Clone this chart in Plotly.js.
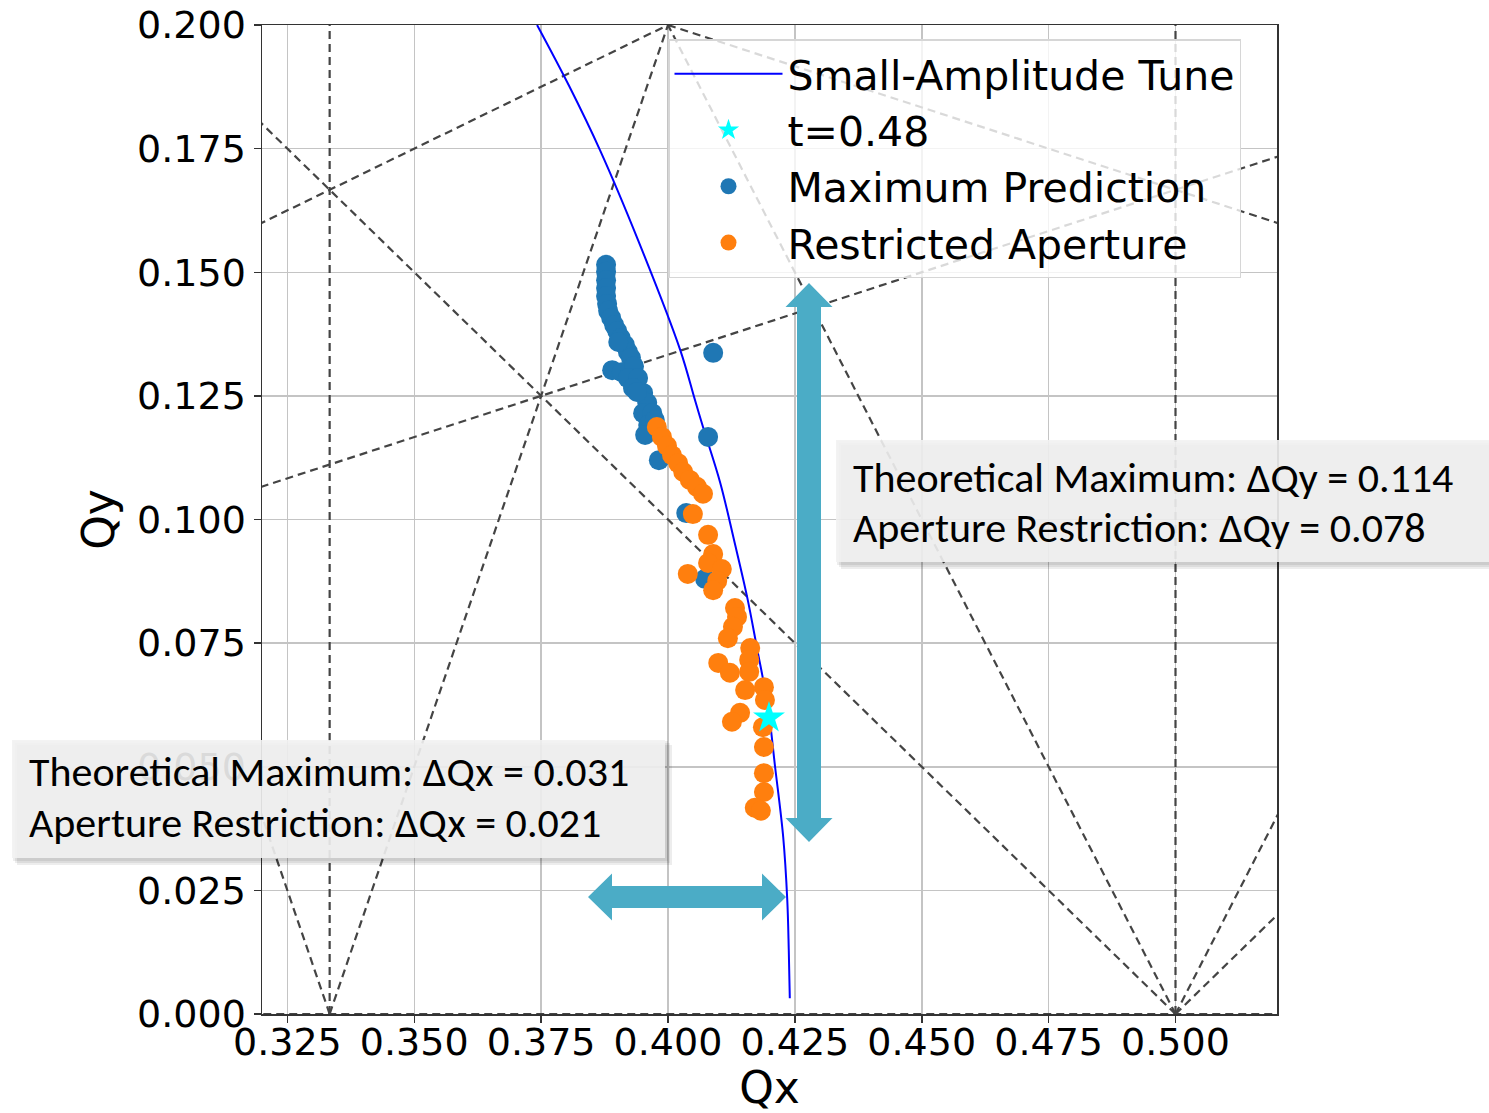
<!DOCTYPE html>
<html>
<head>
<meta charset="utf-8">
<script src="https://cdn.plot.ly/plotly-3.0.1.min.js"></script>
<style>
  html, body { margin: 0; padding: 0; background: #ffffff; }
  #chart { width: 1489px; height: 1113px; }
</style>
</head>
<body>
<div id="chart"></div>
<script>
// Small-amplitude tune footprint (detuning curve)
const tuneQx = [0.3742, 0.3805, 0.3866, 0.3941, 0.4024, 0.4053, 0.4069, 0.4103, 0.4130, 0.4156, 0.4175, 0.4197, 0.4211, 0.4227, 0.4235, 0.4238, 0.4240];
const tuneQy = [0.2000, 0.1877, 0.1747, 0.1565, 0.1343, 0.1242, 0.1187, 0.1074, 0.0959, 0.0843, 0.0742, 0.0621, 0.0500, 0.0358, 0.0231, 0.0129, 0.0032];

// Tune at t = 0.48
const starQx = [0.4199];
const starQy = [0.0599];

// Maximum prediction
const maxQx = [0.3878, 0.3878, 0.3878, 0.3878, 0.3878, 0.3880, 0.3882, 0.3888, 0.3894, 0.3900, 0.3907,
               0.3915, 0.3921, 0.3927, 0.3890, 0.3909, 0.3933, 0.3921, 0.3941, 0.3931, 0.3951, 0.3959,
               0.3951, 0.3969, 0.3961, 0.3955, 0.3982, 0.4036, 0.4073, 0.4089, 0.4079,
               0.3902, 0.3939, 0.3974];
const maxQy = [0.1515, 0.1501, 0.1484, 0.1468, 0.1452, 0.1436, 0.1422, 0.1408, 0.1393, 0.1381, 0.1367,
               0.1353, 0.1339, 0.1327, 0.1302, 0.1298, 0.1310, 0.1286, 0.1286, 0.1266, 0.1256, 0.1236,
               0.1215, 0.1215, 0.1191, 0.1171, 0.1120, 0.1013, 0.0880, 0.1337, 0.1167,
               0.1359, 0.1258, 0.1201];

// Restricted aperture
const apQx = [0.3978, 0.3988, 0.3998, 0.4008, 0.4020, 0.4030, 0.4043, 0.4057, 0.4069, 0.4049, 0.4079,
              0.4089, 0.4079, 0.4106, 0.4039, 0.4097, 0.4089, 0.4132, 0.4136, 0.4128, 0.4118, 0.4162,
              0.4160, 0.4099, 0.4122, 0.4160, 0.4152, 0.4189, 0.4191, 0.4142, 0.4126, 0.4187, 0.4189,
              0.4189, 0.4189, 0.4171, 0.4183];
const apQy = [0.1187, 0.1167, 0.1149, 0.1130, 0.1114, 0.1096, 0.1080, 0.1066, 0.1052, 0.1011, 0.0969,
              0.0930, 0.0912, 0.0900, 0.0890, 0.0876, 0.0857, 0.0821, 0.0803, 0.0783, 0.0760, 0.0740,
              0.0716, 0.0710, 0.0690, 0.0692, 0.0655, 0.0661, 0.0635, 0.0609, 0.0591, 0.0580, 0.0540,
              0.0487, 0.0449, 0.0417, 0.0411];

// Resonance lines m*Qx + n*Qy = p, as segment end points
const resX0 = [0.33333, 0.5, 0.31, 0.33333, 0.33333, 0.5, 0.5, 0.5, 0.5, 0.31, 0.4, 0.31];
const resY0 = [0.0, 0.0, 0.0, 0.0, 0.0, 0.0, 0.0, 0.0, 0.0, 0.155, 0.2, 0.10333];
const resX1 = [0.33333, 0.5, 0.53, 0.4, 0.31, 0.4, 0.31, 0.53, 0.53, 0.4, 0.53, 0.53];
const resY1 = [0.21, 0.21, 0.0, 0.2, 0.07, 0.2, 0.19, 0.06, 0.03, 0.2, 0.15667, 0.17667];

const xTicks = [0.325, 0.35, 0.375, 0.4, 0.425, 0.45, 0.475, 0.5];
const yTicks = [0, 0.025, 0.05, 0.075, 0.1, 0.125, 0.15, 0.175, 0.2];

const noteQx = ['Theoretical Maximum: ΔQx = 0.031', 'Aperture Restriction: ΔQx = 0.021'];
const noteQy = ['Theoretical Maximum: ΔQy = 0.114', 'Aperture Restriction: ΔQy = 0.078'];

// ---- layout helpers (plot area in pixels) ----
const W = 1489, H = 1113;
const PL = 262, PR = 1277, PT = 25, PB = 1014;
const px = v => (v - PL) / (PR - PL);
const py = v => (PB - v) / (PB - PT);

const FONT = 'DejaVu Sans, Verdana, sans-serif';
const NOTE_FONT = 'Carlito, Lato, sans-serif';
const ARROW = '#4bacc6';

const traces = [];

resX0.forEach((x0, i) => {
  traces.push({
    x: [x0, resX1[i]], y: [resY0[i], resY1[i]],
    mode: 'lines', type: 'scatter', showlegend: false, hoverinfo: 'skip',
    line: { color: '#444444', width: 2.2, dash: '8px,5px' }
  });
});

traces.push({
  x: tuneQx, y: tuneQy, type: 'scatter', mode: 'lines', name: 'Small-Amplitude Tune',
  line: { color: '#0000ff', width: 2, shape: 'spline', smoothing: 1 }, legendrank: 1
});
traces.push({
  x: maxQx, y: maxQy, type: 'scatter', mode: 'markers', name: 'Maximum Prediction',
  marker: { color: '#1f77b4', size: 20 }, legendrank: 3
});
traces.push({
  x: apQx, y: apQy, type: 'scatter', mode: 'markers', name: 'Restricted Aperture',
  marker: { color: '#ff7f0e', size: 20 }, legendrank: 4
});
traces.push({
  x: starQx, y: starQy, type: 'scatter', mode: 'markers', name: 't=0.48',
  marker: { color: '#00ffff', size: 24, symbol: 'star' }, legendrank: 2
});

// Double-headed block arrow path, in pixel coordinates converted to paper
function vArrow(cx, yTop, yBot, shaftHalf, headHalf, headLen) {
  const p = [
    [cx, yTop], [cx + headHalf, yTop + headLen], [cx + shaftHalf, yTop + headLen],
    [cx + shaftHalf, yBot - headLen], [cx + headHalf, yBot - headLen], [cx, yBot],
    [cx - headHalf, yBot - headLen], [cx - shaftHalf, yBot - headLen],
    [cx - shaftHalf, yTop + headLen], [cx - headHalf, yTop + headLen]
  ];
  return 'M' + p.map(q => px(q[0]) + ',' + py(q[1])).join(' L') + ' Z';
}
function hArrow(cy, xL, xR, shaftHalf, headHalf, headLen) {
  const p = [
    [xL, cy], [xL + headLen, cy - headHalf], [xL + headLen, cy - shaftHalf],
    [xR - headLen, cy - shaftHalf], [xR - headLen, cy - headHalf], [xR, cy],
    [xR - headLen, cy + headHalf], [xR - headLen, cy + shaftHalf],
    [xL + headLen, cy + shaftHalf], [xL + headLen, cy + headHalf]
  ];
  return 'M' + p.map(q => px(q[0]) + ',' + py(q[1])).join(' L') + ' Z';
}

function noteBox(x0, y0, x1, y1) {
  const out = [];
  [7, 5, 3].forEach(o => {
    out.push({
      type: 'rect', xref: 'paper', yref: 'paper', layer: 'above',
      x0: px(x0 + o - 2), x1: px(x1 + o), y0: py(y1 + o), y1: py(y0 + o - 2),
      fillcolor: 'rgba(0,0,0,0.07)', line: { width: 0 }
    });
  });
  out.push({
    type: 'rect', xref: 'paper', yref: 'paper', layer: 'above',
    x0: px(x0), x1: px(x1), y0: py(y1), y1: py(y0),
    fillcolor: 'rgba(242,242,242,0.9)', line: { width: 0 }
  });
  return out;
}

const shapes = [
  { type: 'path', xref: 'paper', yref: 'paper', layer: 'above',
    path: vArrow(809, 283, 842, 12, 23.5, 24), fillcolor: ARROW, line: { width: 0 } },
  { type: 'path', xref: 'paper', yref: 'paper', layer: 'above',
    path: hArrow(897, 588, 786, 11, 23.5, 24), fillcolor: ARROW, line: { width: 0 } }
].concat(noteBox(12, 740, 665, 858), noteBox(836, 440, 1489, 562));

// Note text: one annotation per line for exact line spacing
function noteLine(text, xPix, yPix) {
  return {
    xref: 'paper', yref: 'paper', x: px(xPix), y: py(yPix), xanchor: 'left', yanchor: 'middle',
    align: 'left', showarrow: false, text: text,
    font: { family: NOTE_FONT, size: 42, color: '#000000' }
  };
}
const annotations = [
  noteLine(noteQx[0], 27, 771), noteLine(noteQx[1], 27, 822),
  noteLine(noteQy[0], 851, 477), noteLine(noteQy[1], 851, 527)
];

const axisCommon = {
  showgrid: true, gridcolor: '#c4c4c4', gridwidth: 1.5,
  zeroline: false, showline: true, mirror: true, linecolor: '#333333', linewidth: 1.5,
  ticks: 'outside', ticklen: 7, tickwidth: 1.5, tickcolor: '#333333',
  tickfont: { family: FONT, size: 38, color: '#000000' },
  tickmode: 'array', tickformat: '.3f', automargin: false
};

const layout = {
  width: W, height: H,
  margin: { l: PL, r: W - PR, t: PT, b: H - PB, pad: 0 },
  paper_bgcolor: '#ffffff', plot_bgcolor: '#ffffff',
  font: { family: FONT, color: '#000000' },
  xaxis: Object.assign({}, axisCommon, {
    range: [0.32, 0.52], tickvals: xTicks, ticklabelstandoff: -13,
    title: { text: 'Qx', font: { family: FONT, size: 44 }, standoff: 10 }
  }),
  yaxis: Object.assign({}, axisCommon, {
    range: [0, 0.2], tickvals: yTicks,
    title: { text: 'Qy', font: { family: FONT, size: 44 }, standoff: 8 }
  }),
  showlegend: true,
  legend: {
    x: px(668), y: py(39), xanchor: 'left', yanchor: 'top',
    bgcolor: 'rgba(255,255,255,0.8)', bordercolor: '#d6d6d6', borderwidth: 1.5,
    font: { family: FONT, size: 41, color: '#000000' },
    itemwidth: 108, traceorder: 'normal'
  },
  shapes: shapes,
  annotations: annotations
};

Plotly.newPlot('chart', traces, layout, { displayModeBar: false, staticPlot: true });
</script>
</body>
</html>
